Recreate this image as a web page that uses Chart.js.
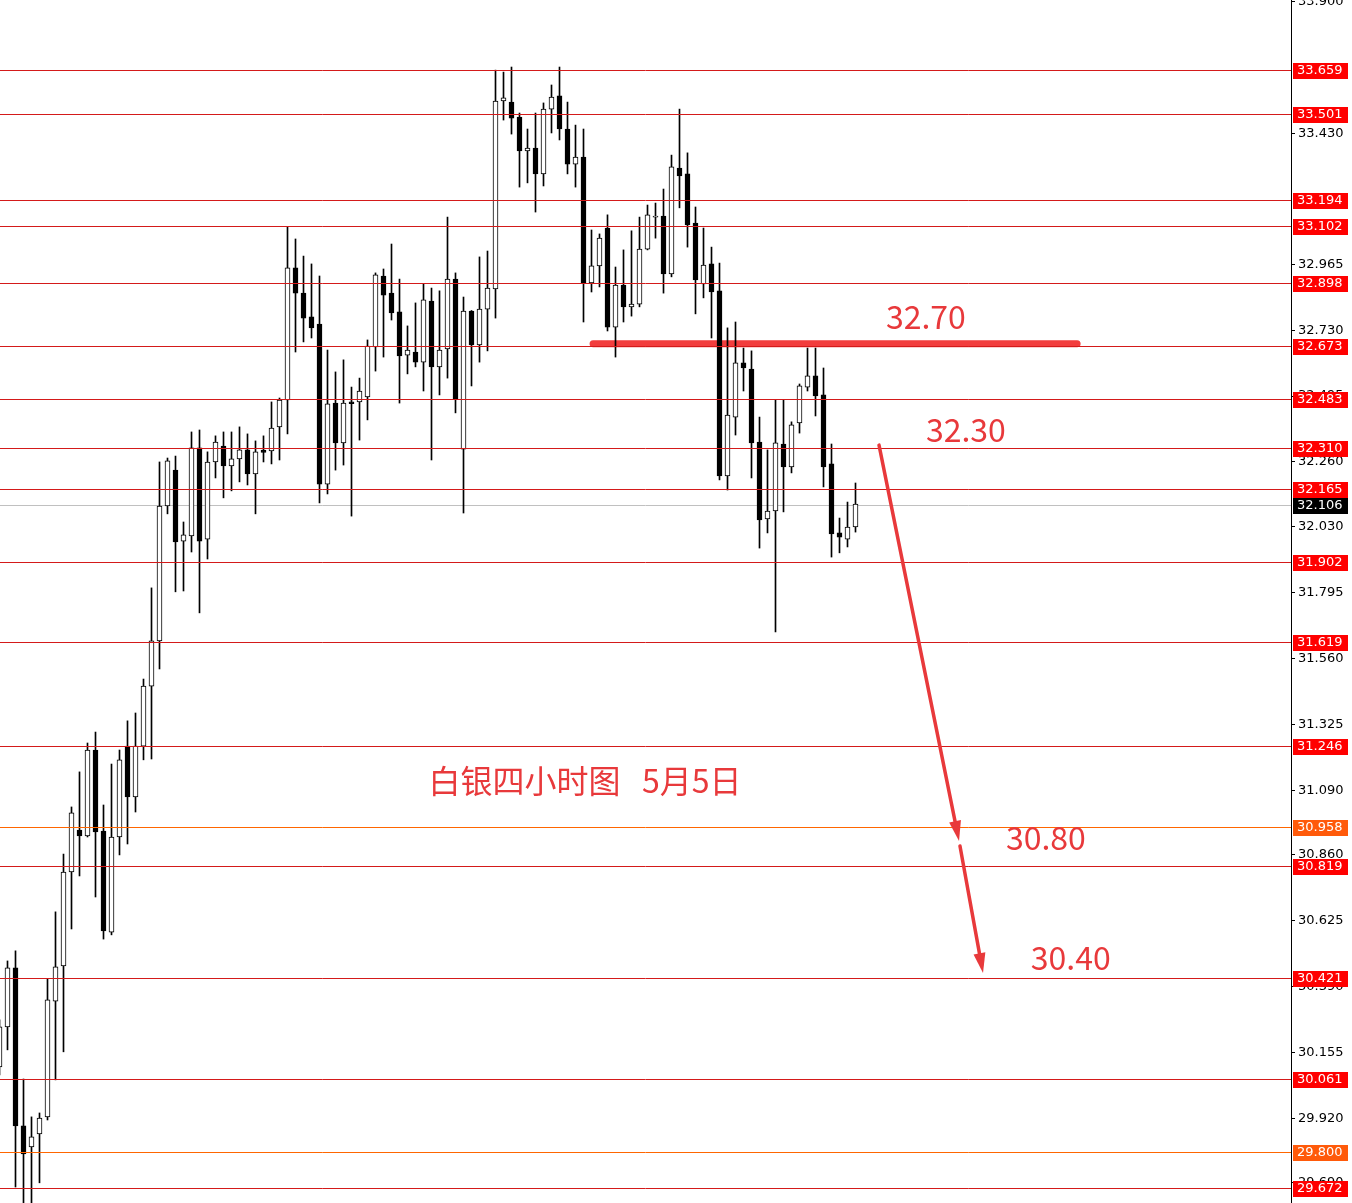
<!DOCTYPE html>
<html>
<head>
<meta charset="utf-8">
<title>白银四小时图 5月5日</title>
<script src="https://cdn.jsdelivr.net/npm/chart.js@4.4.0/dist/chart.umd.min.js"></script>
<style>
  html, body { margin: 0; padding: 0; background: #fff; overflow: hidden; }
  canvas { display: block; }
</style>
</head>
<body>
<canvas id="silverChart" width="1352" height="1203"></canvas>
<script>
// 4H candles, oldest first
const opens = [30.103, 30.246, 30.456, 29.893, 29.818, 29.864, 29.925, 30.338, 30.463, 30.798,
  30.948, 30.927, 31.233, 30.944, 30.584, 30.923, 31.247, 31.066, 31.247, 31.461,
  31.622, 32.103, 32.231, 31.978, 31.996, 32.310, 31.985, 32.260, 32.317, 32.246,
  32.271, 32.303, 32.217, 32.302, 32.299, 32.385, 32.481, 32.952, 32.862, 32.777,
  32.752, 32.181, 32.470, 32.328, 32.474, 32.474, 32.492, 32.670, 32.923, 32.862,
  32.795, 32.641, 32.652, 32.616, 32.834, 32.599, 32.663, 32.912, 32.306, 32.798,
  32.677, 32.805, 32.877, 33.547, 33.543, 33.490, 33.369, 33.379, 33.287, 33.518,
  33.565, 33.447, 33.322, 33.347, 32.898, 32.959, 33.094, 32.741, 32.891, 32.813,
  32.823, 33.019, 33.133, 33.137, 32.930, 33.308, 33.287, 33.112, 32.895, 32.966,
  32.870, 32.210, 32.420, 32.613, 32.591, 32.331, 32.057, 32.085, 32.324, 32.242,
  32.399, 32.527, 32.567, 32.499, 32.253, 32.007, 31.985, 32.028];
const highs = [30.271, 30.481, 30.517, 30.060, 29.925, 29.939, 30.417, 30.656, 30.862, 31.030,
  31.155, 31.258, 31.297, 31.037, 31.183, 31.233, 31.337, 31.365, 31.486, 31.811,
  32.260, 32.274, 32.281, 32.046, 32.367, 32.374, 32.296, 32.353, 32.367, 32.367,
  32.385, 32.360, 32.335, 32.353, 32.474, 32.488, 33.098, 33.055, 32.994, 32.966,
  32.923, 32.659, 32.581, 32.624, 32.527, 32.559, 32.695, 32.934, 32.948, 33.037,
  32.912, 32.745, 32.827, 32.895, 32.880, 32.870, 33.133, 32.934, 32.848, 32.800,
  32.991, 33.012, 33.657, 33.650, 33.668, 33.504, 33.447, 33.504, 33.540, 33.604,
  33.668, 33.543, 33.461, 33.447, 33.087, 33.073, 33.141, 32.955, 33.016, 33.084,
  33.133, 33.176, 33.183, 33.233, 33.354, 33.518, 33.362, 33.169, 33.094, 33.026,
  32.969, 32.738, 32.759, 32.666, 32.656, 32.420, 32.303, 32.481, 32.481, 32.403,
  32.538, 32.666, 32.666, 32.595, 32.324, 32.060, 32.117, 32.185];
const lows = [30.075, 30.164, 29.675, 29.611, 29.611, 29.690, 29.914, 30.057, 30.157, 30.595,
  30.784, 30.923, 30.709, 30.559, 30.574, 30.859, 30.898, 31.012, 31.198, 31.201,
  31.522, 32.075, 31.797, 31.800, 31.939, 31.722, 31.914, 32.203, 32.132, 32.157,
  32.189, 32.178, 32.075, 32.260, 32.253, 32.267, 32.360, 32.652, 32.688, 32.702,
  32.114, 32.146, 32.231, 32.249, 32.067, 32.338, 32.410, 32.584, 32.634, 32.766,
  32.470, 32.574, 32.599, 32.513, 32.267, 32.499, 32.559, 32.435, 32.078, 32.531,
  32.616, 32.656, 32.773, 33.479, 33.429, 33.240, 33.255, 33.151, 33.244, 33.433,
  33.408, 33.287, 33.240, 32.759, 32.866, 32.884, 32.727, 32.634, 32.759, 32.780,
  32.813, 33.016, 33.058, 32.862, 32.920, 33.166, 33.026, 32.788, 32.845, 32.702,
  32.196, 32.160, 32.356, 32.513, 32.203, 31.953, 32.007, 31.654, 32.082, 32.221,
  32.363, 32.513, 32.424, 32.171, 31.921, 31.936, 31.957, 32.010];
const closes = [30.246, 30.456, 29.893, 29.793, 29.854, 29.921, 30.342, 30.460, 30.798, 31.009,
  30.927, 31.233, 30.941, 30.588, 30.923, 31.198, 31.066, 31.247, 31.461, 31.622,
  32.103, 32.264, 31.975, 32.000, 32.310, 31.978, 32.260, 32.331, 32.246, 32.271,
  32.303, 32.217, 32.296, 32.294, 32.381, 32.481, 32.952, 32.862, 32.773, 32.738,
  32.181, 32.467, 32.328, 32.470, 32.468, 32.513, 32.673, 32.927, 32.855, 32.791,
  32.638, 32.659, 32.616, 32.838, 32.599, 32.659, 32.912, 32.485, 32.798, 32.677,
  32.805, 32.880, 33.547, 33.558, 33.486, 33.369, 33.379, 33.287, 33.518, 33.561,
  33.447, 33.322, 33.347, 32.898, 32.959, 33.058, 32.741, 32.891, 32.813, 32.823,
  33.019, 33.141, 33.137, 32.930, 33.312, 33.280, 33.105, 32.909, 32.962, 32.866,
  32.210, 32.427, 32.613, 32.595, 32.328, 32.053, 32.085, 32.328, 32.242, 32.392,
  32.531, 32.567, 32.495, 32.242, 32.003, 31.992, 32.028, 32.110];

// price axis
const yTicks = [33.900, 33.430, 32.965, 32.730, 32.495, 32.260, 32.030, 31.795, 31.560,
  31.325, 31.090, 30.860, 30.625, 30.390, 30.155, 29.920, 29.690];

// horizontal levels
const redLevels = [33.659, 33.501, 33.194, 33.102, 32.898, 32.673, 32.483, 32.310, 32.165,
  31.902, 31.619, 31.246, 30.819, 30.421, 30.061, 29.672];
const orangeLevels = [30.958, 29.800];
const lastPrice = 32.106;

// hand drawn marks, in (bar index, price)
const resistLine = { from: 74.2, to: 134.7, price: 32.681 };
const arrows = [
  { x1: 109.94, y1: 32.320, x2: 119.94, y2: 30.909 },
  { x1: 120.06, y1: 30.891, x2: 122.94, y2: 30.438 }
];
const notes = [
  { text: '32.70', x: 115.8, y: 32.777 },
  { text: '32.30', x: 120.8, y: 32.374 },
  { text: '30.80', x: 130.8, y: 30.919 },
  { text: '30.40', x: 133.9, y: 30.491 },
  { text: '白银四小时图   5月5日', x: 73.2, y: 31.122 }
];

const isUp = i => closes[i] >= opens[i];
const bodies = opens.map((o, i) => ({ x: i, y: [Math.min(o, closes[i]), Math.max(o, closes[i])] }));
const wicks = lows.map((l, i) => ({ x: i, y: [l, highs[i]] }));

const RED = '#e8393b';

const overlay = {
  id: 'overlay',
  beforeDatasetsDraw(chart) {
    const { ctx, chartArea, scales: { x, y } } = chart;
    ctx.save();
    // current price line
    const py = Math.round(y.getPixelForValue(lastPrice)) + 0.5;
    ctx.strokeStyle = '#c0c0c0';
    ctx.lineWidth = 1;
    ctx.beginPath();
    ctx.moveTo(chartArea.left, py);
    ctx.lineTo(chartArea.right, py);
    ctx.stroke();
    // thick resistance stroke
    const ry = y.getPixelForValue(resistLine.price);
    ctx.strokeStyle = '#f23d3d';
    ctx.lineWidth = 7;
    ctx.lineCap = 'round';
    ctx.beginPath();
    ctx.moveTo(x.getPixelForValue(resistLine.from), ry);
    ctx.lineTo(x.getPixelForValue(resistLine.to), ry);
    ctx.stroke();
    ctx.restore();
  },
  afterDatasetsDraw(chart) {
    const { ctx, chartArea, scales: { x, y } } = chart;
    ctx.save();
    ctx.lineWidth = 1;
    const hline = (v, color) => {
      const py = Math.round(y.getPixelForValue(v)) + 0.5;
      ctx.strokeStyle = color;
      ctx.beginPath();
      ctx.moveTo(chartArea.left, py);
      ctx.lineTo(chartArea.right, py);
      ctx.stroke();
    };
    redLevels.forEach(v => hline(v, '#d41a1a'));
    orangeLevels.forEach(v => hline(v, '#ff6600'));

    // arrows
    ctx.strokeStyle = RED;
    ctx.fillStyle = RED;
    arrows.forEach(a => {
      const x1 = x.getPixelForValue(a.x1), y1 = y.getPixelForValue(a.y1);
      const x2 = x.getPixelForValue(a.x2), y2 = y.getPixelForValue(a.y2);
      const ang = Math.atan2(y2 - y1, x2 - x1);
      const head = 20, half = 6;
      const bx = x2 - head * Math.cos(ang), by = y2 - head * Math.sin(ang);
      ctx.lineWidth = 3.5;
      ctx.lineCap = 'round';
      ctx.beginPath();
      ctx.moveTo(x1, y1);
      ctx.lineTo(bx, by);
      ctx.stroke();
      ctx.beginPath();
      ctx.moveTo(x2, y2);
      ctx.lineTo(bx + half * Math.sin(ang), by - half * Math.cos(ang));
      ctx.lineTo(bx - half * Math.sin(ang), by + half * Math.cos(ang));
      ctx.closePath();
      ctx.fill();
    });

    // notes
    ctx.font = '32px "Noto Sans CJK SC", "Noto Sans", sans-serif';
    ctx.textAlign = 'center';
    ctx.textBaseline = 'middle';
    notes.forEach(n => ctx.fillText(n.text, x.getPixelForValue(n.x), y.getPixelForValue(n.y)));
    ctx.restore();
  },
  afterDraw(chart) {
    const { ctx, chartArea, scales: { y } } = chart;
    ctx.save();
    ctx.font = '13px "DejaVu Sans", sans-serif';
    ctx.textAlign = 'left';
    ctx.textBaseline = 'middle';
    const tag = (v, bg) => {
      const py = Math.round(y.getPixelForValue(v));
      ctx.fillStyle = bg;
      ctx.fillRect(chartArea.right + 2, py - 7, 55, 16);
      ctx.fillStyle = '#fff';
      ctx.fillText(v.toFixed(3), chartArea.right + 6, py + 1);
    };
    redLevels.forEach(v => tag(v, '#ff0000'));
    orangeLevels.forEach(v => tag(v, '#ff5a0a'));
    tag(lastPrice, '#000');
    ctx.restore();
  }
};

new Chart(document.getElementById('silverChart'), {
  type: 'bar',
  data: {
    datasets: [
      {
        label: 'body',
        data: bodies,
        order: 1,
        grouped: false,
        barThickness: 5,
        borderWidth: 1,
        borderSkipped: false,
        borderColor: '#000',
        backgroundColor: c => isUp(c.dataIndex) ? '#fff' : '#000'
      },
      {
        label: 'wick',
        data: wicks,
        order: 2,
        grouped: false,
        barThickness: 1,
        borderWidth: 0,
        backgroundColor: '#000'
      }
    ]
  },
  plugins: [overlay],
  options: {
    responsive: false,
    animation: false,
    layout: { padding: 0 },
    plugins: { legend: { display: false }, tooltip: { enabled: false } },
    scales: {
      x: {
        type: 'linear',
        display: false,
        min: 0.0625,
        max: 161.4375,
        offset: false
      },
      y: {
        position: 'right',
        min: 29.618,
        max: 33.907,
        afterBuildTicks: s => { s.ticks = yTicks.map(v => ({ value: v })); },
        afterFit: s => { s.width = 61; s.paddingTop = 0; s.paddingBottom = 0; },
        border: { display: true, color: '#000', width: 1 },
        grid: { drawOnChartArea: false, drawTicks: true, tickLength: 4, color: '#000' },
        ticks: {
          autoSkip: false,
          padding: 3,
          color: '#000',
          font: { family: 'DejaVu Sans', size: 13 },
          callback: v => Number(v).toFixed(3)
        }
      }
    }
  }
});
</script>
</body>
</html>
